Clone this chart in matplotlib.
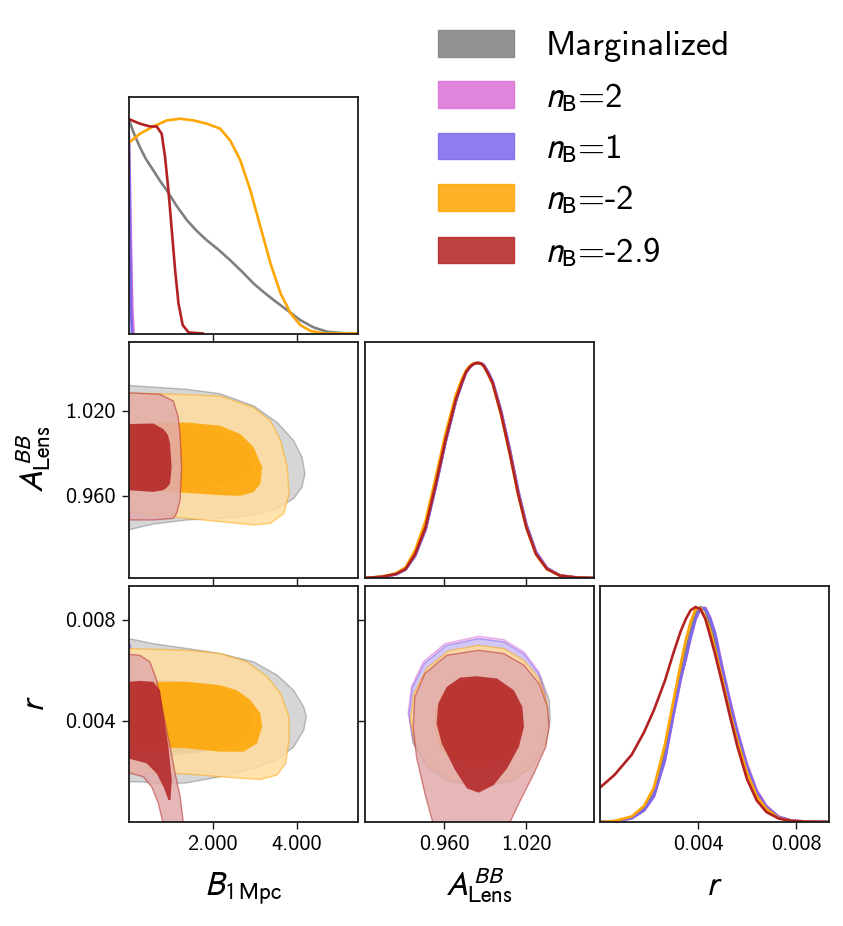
import matplotlib
matplotlib.use("Agg")
import matplotlib.pyplot as plt
from matplotlib.patches import Patch
from matplotlib.colors import to_rgb

plt.rcParams['mathtext.fontset'] = 'stixsans'
plt.rcParams['font.family'] = ['cmss10', 'DejaVu Sans']
plt.rcParams['axes.unicode_minus'] = False

names = ['Marginalized', r'$n_{\mathrm{B}}$=2', r'$n_{\mathrm{B}}$=1',
         r'$n_{\mathrm{B}}$=-2', r'$n_{\mathrm{B}}$=-2.9']
colors = ['gray', 'orchid', 'mediumslateblue', 'orange', 'firebrick']

param_labels = [r'$B_{\mathrm{1\,Mpc}}$', r'$A^{BB}_{\mathrm{Lens}}$', r'$r$']
limits = [(0.0, 5.45), (0.902, 1.069), (0.0, 0.00935)]
tick_vals = [[2.0, 4.0], [0.96, 1.02], [0.004, 0.008]]
tick_text = [['2.000', '4.000'], ['0.960', '1.020'], ['0.004', '0.008']]

# ---- 1D marginals (normalised to peak 1) ----
# B_1Mpc
b_grey_x = [0.0, 0.12, 0.27, 0.42, 0.59, 0.75, 0.91, 1.15, 1.39, 1.62, 1.86, 2.14, 2.42, 2.70,
            2.98, 3.22, 3.46, 3.78, 4.09, 4.41, 4.73, 5.21, 5.45]
b_grey_y = [1.0, 0.935, 0.867, 0.81, 0.759, 0.71, 0.666, 0.592, 0.527, 0.478, 0.434, 0.39, 0.341,
            0.288, 0.232, 0.192, 0.155, 0.108, 0.062, 0.028, 0.008, 0.0, 0.0]
b_pink_x = [0.0, 0.03, 0.06, 0.09, 0.12]
b_pink_y = [1.0, 0.75, 0.4, 0.12, 0.0]
b_blue_x = [0.0, 0.02, 0.04, 0.06, 0.08]
b_blue_y = [1.0, 0.75, 0.4, 0.12, 0.0]
b_orange_x = [0.0, 0.27, 0.59, 0.91, 1.23, 1.55, 1.86, 2.18, 2.42, 2.66, 2.90, 3.14, 3.38, 3.62,
              3.86, 4.09, 4.33, 4.65, 5.45]
b_orange_y = [0.886, 0.929, 0.963, 0.991, 0.999, 0.991, 0.976, 0.953, 0.898, 0.806, 0.666, 0.496,
              0.325, 0.186, 0.093, 0.039, 0.012, 0.0, 0.0]
b_red_x = [0.0, 0.27, 0.51, 0.67, 0.79, 0.87, 0.95, 1.03, 1.11, 1.19, 1.29, 1.43, 1.78]
b_red_y = [0.998, 0.976, 0.963, 0.963, 0.929, 0.821, 0.666, 0.480, 0.294, 0.139, 0.039, 0.005, 0.0]

# A_Lens
a_grid = [0.902, 0.915, 0.925, 0.932, 0.939, 0.9465, 0.954, 0.961, 0.9685, 0.973, 0.976, 0.9785,
          0.981, 0.983, 0.985, 0.987, 0.989, 0.992, 0.9955, 1.0015, 1.008, 1.014, 1.020, 1.027,
          1.035, 1.0445, 1.057, 1.069]
a_grey = [0, 0.005, 0.017, 0.04, 0.105, 0.225, 0.425, 0.63, 0.82, 0.905, 0.955, 0.978, 0.993,
          0.999, 1.0, 0.998, 0.99, 0.958, 0.912, 0.777, 0.593, 0.405, 0.247, 0.12, 0.046, 0.012,
          0.002, 0]
a_pink = [0, 0.005, 0.017, 0.04, 0.104, 0.224, 0.424, 0.63, 0.82, 0.905, 0.955, 0.978, 0.993,
          0.999, 1.0, 0.998, 0.991, 0.96, 0.915, 0.781, 0.598, 0.41, 0.25, 0.122, 0.047, 0.012,
          0.002, 0]
a_blue = [0, 0.005, 0.017, 0.04, 0.105, 0.225, 0.425, 0.63, 0.82, 0.905, 0.955, 0.978, 0.993,
          0.999, 1.0, 0.998, 0.99, 0.959, 0.913, 0.779, 0.596, 0.408, 0.249, 0.121, 0.046, 0.012,
          0.002, 0]
a_orange = [0, 0.007, 0.022, 0.05, 0.13, 0.265, 0.47, 0.67, 0.85, 0.925, 0.965, 0.985, 0.996,
            1.0, 1.0, 0.995, 0.985, 0.948, 0.9, 0.76, 0.575, 0.388, 0.233, 0.11, 0.041, 0.011,
            0.002, 0]
a_red = [0, 0.006, 0.019, 0.042, 0.112, 0.236, 0.439, 0.641, 0.828, 0.91, 0.958, 0.98, 0.994,
         0.999, 1.0, 0.997, 0.986, 0.952, 0.905, 0.766, 0.579, 0.392, 0.236, 0.112, 0.042, 0.011,
         0.002, 0]

# r
r_grid = [0.0, 0.0006, 0.0013, 0.0018, 0.0022, 0.00265, 0.003, 0.0033, 0.0035, 0.0037, 0.0039,
          0.0041, 0.0043, 0.0045, 0.0047, 0.005, 0.0053, 0.0056, 0.006, 0.0064, 0.0068, 0.0073,
          0.0078, 0.0085, 0.0093]
r_grey = [0, 0.004, 0.021, 0.062, 0.135, 0.32, 0.525, 0.69, 0.80, 0.886, 0.968, 1.0, 0.985, 0.915,
          0.83, 0.69, 0.54, 0.40, 0.245, 0.13, 0.065, 0.02, 0.006, 0.001, 0]
r_pink = [0, 0.003, 0.017, 0.053, 0.118, 0.285, 0.495, 0.665, 0.755, 0.855, 0.94, 0.993, 0.996,
          0.95, 0.88, 0.72, 0.57, 0.43, 0.27, 0.147, 0.074, 0.025, 0.008, 0.001, 0]
r_blue = [0, 0.003, 0.018, 0.055, 0.12, 0.29, 0.5, 0.67, 0.76, 0.86, 0.945, 0.995, 0.993, 0.945,
          0.874, 0.71, 0.56, 0.42, 0.26, 0.14, 0.07, 0.022, 0.007, 0.001, 0]
r_orange = [0, 0.005, 0.026, 0.075, 0.16, 0.36, 0.565, 0.737, 0.845, 0.93, 0.99, 0.995, 0.95,
            0.89, 0.8, 0.66, 0.51, 0.38, 0.23, 0.12, 0.06, 0.017, 0.005, 0.001, 0]
r_red = [0.16, 0.22, 0.314, 0.418, 0.52, 0.657, 0.787, 0.889, 0.943, 0.985, 1.0, 0.99, 0.945,
         0.864, 0.78, 0.64, 0.495, 0.355, 0.2, 0.1, 0.046, 0.016, 0.005, 0.001, 0]

# ---- 2D contours (68% inner / 95% outer outlines) ----
# B_1Mpc vs A_Lens
ba_grey_out = ([0.0, 0.59, 1.39, 2.18, 2.98, 3.54, 3.93, 4.13, 4.20, 4.13, 3.93, 3.54, 2.98, 2.18, 1.39, 0.59, 0.0],
               [1.038, 1.0368, 1.0352, 1.0321, 1.0235, 1.0118, 0.999, 0.9873, 0.9756, 0.9663, 0.9581, 0.9511,
                0.9464, 0.9441, 0.943, 0.9401, 0.936])
ba_grey_in = ([0.0, 0.99, 1.78, 2.42, 2.82, 2.94, 2.86, 2.58, 2.02, 1.39, 0.59, 0.0],
              [1.0118, 1.0118, 1.0083, 1.0013, 0.992, 0.9827, 0.9756, 0.971, 0.9675, 0.9651, 0.964, 0.964])
ba_pink_out = ([0.0, 0.05, 0.08, 0.05, 0.0], [1.034, 1.031, 0.99, 0.945, 0.94])
ba_pink_in = ([0.0, 0.035, 0.05, 0.035, 0.0], [1.012, 1.009, 0.988, 0.966, 0.963])
ba_blue_out = ([0.0, 0.04, 0.065, 0.04, 0.0], [1.033, 1.03, 0.99, 0.946, 0.941])
ba_blue_in = ([0.0, 0.03, 0.04, 0.03, 0.0], [1.011, 1.008, 0.988, 0.967, 0.964])
ba_orange_out = ([0.0, 0.749, 2.18, 2.98, 3.38, 3.62, 3.78, 3.82, 3.70, 3.38, 2.98, 2.18, 1.39, 0.59, 0.0],
                 [1.0325, 1.0321, 1.0305, 1.0223, 1.013, 0.999, 0.9803, 0.9616, 0.9476, 0.9406, 0.9395,
                  0.9418, 0.9441, 0.9465, 0.9488])
ba_orange_in = ([0.0, 1.39, 2.18, 2.66, 2.98, 3.18, 3.14, 2.98, 2.66, 2.18, 1.39, 0.59, 0.0],
                [1.0107, 1.0118, 1.0095, 1.0037, 0.9943, 0.9803, 0.9686, 0.9628, 0.960, 0.9605, 0.9621,
                 0.964, 0.964])
ba_red_out = ([0.0, 0.749, 1.067, 1.18, 1.227, 1.266, 1.227, 1.15, 1.067, 0.59, 0.0],
              [1.0328, 1.0317, 1.027, 1.016, 1.0037, 0.9803, 0.957, 0.948, 0.9441, 0.943, 0.943])
ba_red_in = ([0.0, 0.589, 0.828, 0.94, 0.988, 1.027, 0.988, 0.9, 0.828, 0.589, 0.0],
             [1.0107, 1.0111, 1.0072, 1.003, 0.9967, 0.9803, 0.9686, 0.9655, 0.964, 0.9628, 0.964])

# B_1Mpc vs r
br_grey_out = ([0.0, 0.59, 1.39, 2.18, 2.98, 3.54, 3.93, 4.17, 4.23, 4.17, 3.93, 3.54, 2.98, 2.18, 1.39, 0.83, 0.27, 0.0],
               [0.00725, 0.00705, 0.00686, 0.00666, 0.00633, 0.0058, 0.00521, 0.00455, 0.00416, 0.00363,
                0.00297, 0.00245, 0.00212, 0.00179, 0.00155, 0.0015, 0.00159, 0.00159])
br_grey_in = ([0.0, 0.99, 1.78, 2.42, 2.82, 2.98, 2.94, 2.74, 2.34, 1.78, 0.99, 0.43, 0.0],
              [0.005605, 0.005605, 0.005474, 0.00521, 0.004816, 0.004289, 0.003763, 0.003237, 0.002974,
               0.002776, 0.002605, 0.002579, 0.002579])
br_pink_out = ([0.0, 0.05, 0.08, 0.05, 0.0], [0.00708, 0.0070, 0.0045, 0.0020, 0.00192])
br_pink_in = ([0.0, 0.035, 0.05, 0.035, 0.0], [0.0056, 0.0055, 0.0041, 0.0027, 0.0026])
br_blue_out = ([0.0, 0.04, 0.065, 0.04, 0.0], [0.00704, 0.00698, 0.0045, 0.00202, 0.00195])
br_blue_in = ([0.0, 0.03, 0.04, 0.03, 0.0], [0.0055, 0.0054, 0.0041, 0.0028, 0.0027])
br_orange_out = ([0.0, 1.39, 2.18, 2.82, 3.30, 3.62, 3.82, 3.82, 3.74, 3.54, 3.14, 2.18, 1.39, 0.59, 0.0],
                 [0.006855, 0.00679, 0.00666, 0.00633, 0.00574, 0.00508, 0.00416, 0.00324, 0.00232,
                  0.00186, 0.00168, 0.00179, 0.0019, 0.00195, 0.00195])
br_orange_in = ([0.0, 1.39, 2.18, 2.58, 2.90, 3.14, 3.18, 3.06, 2.74, 2.18, 1.39, 0.59, 0.0],
                [0.00554, 0.00554, 0.00541, 0.00521, 0.00482, 0.00429, 0.00376, 0.00311, 0.00278,
                 0.00278, 0.00291, 0.00297, 0.00297])
br_red_out = ([0.0, 0.27, 0.51, 0.67, 0.83, 0.99, 1.11, 1.23, 1.31, 0.83, 0.71, 0.55, 0.35, 0.0],
              [0.00663, 0.00659, 0.00633, 0.0056, 0.00429, 0.00297, 0.00192, 0.001, -0.0001,
               -0.0001, 0.00074, 0.0014, 0.00179, 0.00195])
br_red_in = ([0.0, 0.27, 0.59, 0.75, 0.83, 0.95, 1.03, 1.0, 0.95, 0.83, 0.67, 0.43, 0.0],
             [0.00554, 0.00558, 0.00554, 0.00521, 0.00429, 0.00297, 0.00166, 0.00087, 0.00087, 0.0014,
              0.00192, 0.00232, 0.00251])

# A_Lens vs r
ar_grey_out = ([0.9852, 1.0036, 1.0183, 1.0305, 1.0367, 1.0374, 1.0342, 1.0244, 1.0085, 0.9864, 0.9644,
                0.9473, 0.9375, 0.9350, 0.9375, 0.9460, 0.9620],
               [0.007184, 0.007053, 0.006526, 0.005737, 0.004816, 0.004026, 0.003105, 0.002184, 0.001592,
                0.001395, 0.001592, 0.002184, 0.003105, 0.004026, 0.005079, 0.006132, 0.006921])
ar_grey_in = ([0.9852, 1.0011, 1.0122, 1.0178, 1.0178, 1.0122, 1.0011, 0.9852, 0.9693, 0.9583, 0.9541,
               0.9541, 0.9590, 0.9693],
              [0.00571, 0.005605, 0.005145, 0.004421, 0.003632, 0.002908, 0.002474, 0.002342, 0.002474,
               0.002908, 0.003632, 0.004421, 0.005145, 0.005605])
ar_pink_out = ([0.9852, 1.0036, 1.0183, 1.0293, 1.0342, 1.0354, 1.0318, 1.0220, 1.0060, 0.9852, 0.9644,
                0.9473, 0.9375, 0.9338, 0.9362, 0.9448, 0.9607],
               [0.007342, 0.00721, 0.006724, 0.005934, 0.004947, 0.004026, 0.003105, 0.002316, 0.00179,
                0.001658, 0.00179, 0.002382, 0.003237, 0.004289, 0.005342, 0.006329, 0.007053])
ar_pink_in = ([0.9860, 1.0019, 1.0130, 1.0186, 1.0186, 1.0130, 1.0019, 0.9860, 0.9701, 0.9591, 0.9549,
               0.9549, 0.9598, 0.9701],
              [0.00585, 0.005745, 0.005285, 0.004561, 0.003772, 0.003048, 0.002614, 0.002482, 0.002614,
               0.003048, 0.003772, 0.004561, 0.005285, 0.005745])
ar_blue_out = ([0.9852, 1.0036, 1.0183, 1.0293, 1.0342, 1.0354, 1.0318, 1.0220, 1.0060, 0.9852, 0.9644,
                0.9473, 0.9375, 0.9345, 0.9370, 0.9456, 0.9615],
               [0.00725, 0.007118, 0.006632, 0.005842, 0.004882, 0.004026, 0.003105, 0.00229, 0.001763,
                0.001632, 0.001763, 0.002342, 0.00321, 0.004289, 0.005316, 0.006263, 0.006974])
ar_blue_in = ([0.9858, 1.0017, 1.0128, 1.0184, 1.0184, 1.0128, 1.0017, 0.9858, 0.9699, 0.9589, 0.9547,
               0.9547, 0.9596, 0.9699],
              [0.00580, 0.005695, 0.005235, 0.004511, 0.003722, 0.002998, 0.002564, 0.002432, 0.002564,
               0.002998, 0.003722, 0.004511, 0.005235, 0.005695])
ar_orange_out = ([0.9852, 1.0036, 1.0183, 1.0293, 1.0349, 1.0359, 1.0330, 1.0232, 1.0073, 0.9864, 0.9656,
                  0.9485, 0.9387, 0.9355, 0.9380, 0.9473, 0.9632],
                 [0.006987, 0.006855, 0.006395, 0.005671, 0.00475, 0.003895, 0.002974, 0.002118, 0.001658,
                  0.0015, 0.001658, 0.00225, 0.003105, 0.004026, 0.005079, 0.006066, 0.006763])
ar_orange_in = ([0.9846, 1.0003, 1.0114, 1.0170, 1.0170, 1.0114, 1.0003, 0.9846, 0.9687, 0.9577, 0.9535,
                 0.9535, 0.9584, 0.9687],
                [0.00565, 0.005545, 0.005085, 0.004361, 0.003572, 0.002848, 0.002414, 0.002282, 0.002414,
                 0.002848, 0.003572, 0.004361, 0.005085, 0.005545])
ar_red_out = ([0.9852, 1.0036, 1.0183, 1.0293, 1.0354, 1.0367, 1.0342, 1.0256, 1.0158, 1.0073, 0.9522,
               0.9460, 0.9399, 0.9375, 0.9387, 0.9460, 0.9620],
              [0.006789, 0.006658, 0.006197, 0.005474, 0.004553, 0.003763, 0.002974, 0.001921, 0.000868,
               -0.0001, -0.0001, 0.001132, 0.002579, 0.003763, 0.004947, 0.005868, 0.006592])
ar_red_in = ([0.9840, 0.9987, 1.0109, 1.0171, 1.0183, 1.0146, 1.0060, 0.9962, 0.9852, 0.9767, 0.9681,
              0.9583, 0.9546, 0.9558, 0.9620, 0.9718],
             [0.005763, 0.005671, 0.00521, 0.004553, 0.003763, 0.002974, 0.002118, 0.00146, 0.001158,
              0.001329, 0.002053, 0.003105, 0.003895, 0.004684, 0.005342, 0.00571])

marg_b = [(b_grey_x, b_grey_y), (b_pink_x, b_pink_y), (b_blue_x, b_blue_y),
          (b_orange_x, b_orange_y), (b_red_x, b_red_y)]
marg_a = [(a_grid, a_grey), (a_grid, a_pink), (a_grid, a_blue), (a_grid, a_orange), (a_grid, a_red)]
marg_r = [(r_grid, r_grey), (r_grid, r_pink), (r_grid, r_blue), (r_grid, r_orange), (r_grid, r_red)]
cont_ba = [(ba_grey_out, ba_grey_in), (ba_pink_out, ba_pink_in), (ba_blue_out, ba_blue_in),
           (ba_orange_out, ba_orange_in), (ba_red_out, ba_red_in)]
cont_br = [(br_grey_out, br_grey_in), (br_pink_out, br_pink_in), (br_blue_out, br_blue_in),
           (br_orange_out, br_orange_in), (br_red_out, br_red_in)]
cont_ar = [(ar_grey_out, ar_grey_in), (ar_pink_out, ar_pink_in), (ar_blue_out, ar_blue_in),
           (ar_orange_out, ar_orange_in), (ar_red_out, ar_red_in)]


def lighter(c, f=0.38):
    r, g, b = to_rgb(c)
    return (1 - f + f * r, 1 - f + f * g, 1 - f + f * b)


fig = plt.figure(figsize=(8.43, 9.26), dpi=100)
W, H = 843.0, 926.0
col_left = [128.5, 364.5, 600.0]
row_top = [97.0, 341.5, 585.5]
pw, ph = 229.0, 236.5


def make_ax(row, col):
    ax = fig.add_axes([col_left[col] / W, 1 - (row_top[row] + ph) / H, pw / W, ph / H])
    for s in ax.spines.values():
        s.set_linewidth(1.3)
        s.set_color('#1a1a1a')
    ax.tick_params(direction='out', length=5, width=1.0, color='#1a1a1a', labelsize=16, pad=4)
    return ax


def style_ax(ax, xi, yi, row, col):
    ax.set_xlim(*limits[xi])
    ax.set_xticks(tick_vals[xi])
    if row == 2:
        ax.set_xticklabels(tick_text[xi])
        ax.set_xlabel(param_labels[xi], fontsize=24)
        ax.xaxis.set_label_coords(0.5, -0.31)
        ax.xaxis.label.set_va('baseline')
    else:
        ax.set_xticklabels([])
    if yi is None:
        ax.set_ylim(0, 1.1)
        ax.set_yticks([])
    else:
        ax.set_ylim(*limits[yi])
        ax.set_yticks(tick_vals[yi])
        if col == 0:
            ax.set_yticklabels(tick_text[yi])
            ax.set_ylabel(param_labels[yi], fontsize=24)
            ax.yaxis.set_label_coords(-0.37, 0.5)
            ax.yaxis.label.set_va('baseline')
        else:
            ax.set_yticklabels([])


def draw_1d(ax, curves):
    for (x, y), c in zip(curves, colors):
        ax.plot(x, y, color=c, lw=1.9, solid_capstyle='round', solid_joinstyle='round')


def draw_2d(ax, conts):
    for (outer, inner), c in zip(conts, colors):
        ax.fill(outer[0], outer[1], facecolor=lighter(c), alpha=0.85, lw=0)
        ax.fill(outer[0], outer[1], facecolor='none', edgecolor=c, alpha=0.5, lw=1.0)
        ax.fill(inner[0], inner[1], facecolor=c, alpha=0.85, lw=0)


ax = make_ax(0, 0)
draw_1d(ax, marg_b)
style_ax(ax, 0, None, 0, 0)

ax = make_ax(1, 0)
draw_2d(ax, cont_ba)
style_ax(ax, 0, 1, 1, 0)

ax = make_ax(1, 1)
draw_1d(ax, marg_a)
style_ax(ax, 1, None, 1, 1)

ax = make_ax(2, 0)
draw_2d(ax, cont_br)
style_ax(ax, 0, 2, 2, 0)

ax = make_ax(2, 1)
draw_2d(ax, cont_ar)
style_ax(ax, 1, 2, 2, 1)

ax = make_ax(2, 2)
draw_1d(ax, marg_r)
style_ax(ax, 2, None, 2, 2)

handles = [Patch(facecolor=c, edgecolor=c, alpha=0.85) for c in colors]
fig.legend(handles, names, loc='upper left', bbox_to_anchor=(438 / W, 1 - 30 / H),
           frameon=False, fontsize=25, borderpad=0, borderaxespad=0,
           handlelength=2.19, handleheight=0.8, handletextpad=0.9, labelspacing=0.535)

fig.savefig('out.png', dpi=100)
